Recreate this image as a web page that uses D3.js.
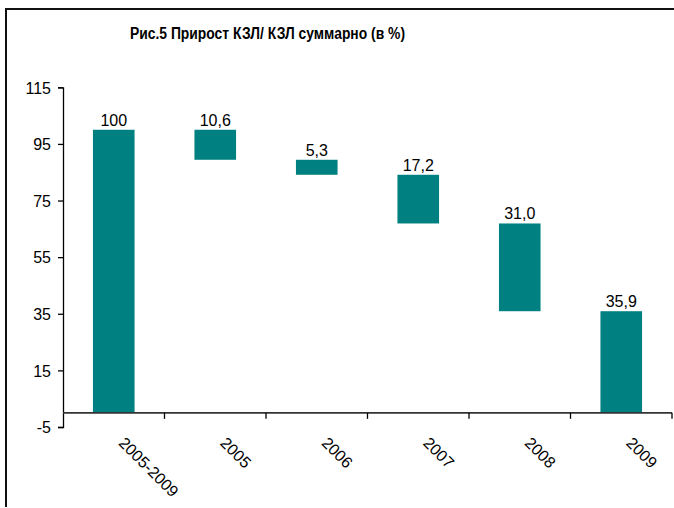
<!DOCTYPE html>
<html>
<head>
<meta charset="utf-8">
<script src="https://cdn.jsdelivr.net/npm/d3@7"></script>
<style>
  html, body { margin: 0; padding: 0; background: #fff; }
  svg { display: block; }
  text { font-family: "Liberation Sans", Arial, sans-serif; fill: #000; }
</style>
</head>
<body>
<div id="chart"></div>
<script>
// ---- Data ----
const title = "Рис.5 Прирост КЗЛ/ КЗЛ суммарно (в  %)";
const categories = ["2005-2009", "2005", "2006", "2007", "2008", "2009"];
const barValues = [100, 10.6, 5.3, 17.2, 31.0, 35.9];
const labels = ["100", "10,6", "5,3", "17,2", "31,0", "35,9"];
const yTicks = [-5, 15, 35, 55, 75, 95, 115];

// waterfall: first is total (0..100), then decreasing steps, last ends at 0
const segs = [];
{
  let level = barValues[0];
  segs.push({ cat: categories[0], lo: 0, hi: barValues[0], label: labels[0] });
  for (let i = 1; i < barValues.length; i++) {
    const hi = level;
    const lo = Math.max(0, level - barValues[i]);
    segs.push({ cat: categories[i], lo: i === barValues.length - 1 ? 0 : lo, hi: hi, label: labels[i] });
    level = lo;
  }
}

const W = 674, H = 508;
const svg = d3.select("#chart").append("svg").attr("width", W).attr("height", H);

// frame (cropped outer border)
svg.append("line").attr("x1", 6).attr("x2", 6).attr("y1", 8).attr("y2", 507)
  .attr("stroke", "#111").attr("stroke-width", 2);
svg.append("line").attr("x1", 5).attr("x2", 674).attr("y1", 9).attr("y2", 9)
  .attr("stroke", "#111").attr("stroke-width", 2);

svg.append("text").attr("x", 267.5).attr("y", 39).attr("text-anchor", "middle")
  .style("font-weight", "bold").style("font-size", "16px")
  .attr("textLength", 275).attr("lengthAdjust", "spacingAndGlyphs")
  .text(title);

const x0 = 63, x1 = 672, yTop = 87.3, yBot = 427;
const x = d3.scaleBand().domain(categories).range([x0, x1]).paddingInner(0.59).paddingOuter(0.295);
const y = d3.scaleLinear().domain([-5, 115]).range([yBot, yTop]);

// bars
svg.selectAll("rect.bar").data(segs).enter().append("rect")
  .attr("class", "bar")
  .attr("x", d => x(d.cat))
  .attr("width", x.bandwidth())
  .attr("y", d => y(d.hi))
  .attr("height", d => y(d.lo) - y(d.hi))
  .attr("fill", "#008080");

// y axis
const yAxis = d3.axisLeft(y).tickValues(yTicks).tickSize(5).tickPadding(7).tickFormat(d => String(d));
const gy = svg.append("g").attr("transform", `translate(${x0},0)`).call(yAxis);
gy.select(".domain").attr("stroke", "#000").attr("stroke-width", 1.3);
gy.selectAll(".tick line").attr("stroke", "#000").attr("stroke-width", 1.3);
gy.selectAll(".tick text").style("font-size", "16px").style("font-family", "Liberation Sans, Arial, sans-serif").attr("fill", "#000").attr("dy", "0.36em");

// x axis at zero
const bandEdges = d3.range(categories.length + 1).map(i => x0 + i * (x1 - x0) / categories.length);
const gx = svg.append("g");
gx.append("line").attr("x1", x0).attr("x2", x1).attr("y1", y(0)).attr("y2", y(0))
  .attr("stroke", "#333").attr("stroke-width", 1.6);
gx.selectAll("line.tk").data(bandEdges.slice(1)).enter().append("line")
  .attr("x1", d => d).attr("x2", d => d).attr("y1", y(0)).attr("y2", y(0) + 6)
  .attr("stroke", "#000").attr("stroke-width", 1.3);

// x labels rotated
gx.selectAll("text.xl").data(categories).enter().append("text")
  .attr("transform", d => `translate(${x(d) + x.bandwidth() / 2 + 4},444) rotate(45)`)
  .attr("text-anchor", "start")
  .style("font-size", "16px")
  .text(d => d);

// value labels
svg.selectAll("text.vl").data(segs).enter().append("text")
  .attr("x", d => x(d.cat) + x.bandwidth() / 2)
  .attr("y", d => y(d.hi) - 4)
  .attr("text-anchor", "middle")
  .style("font-size", "16px")
  .text(d => d.label);
</script>
</body>
</html>
